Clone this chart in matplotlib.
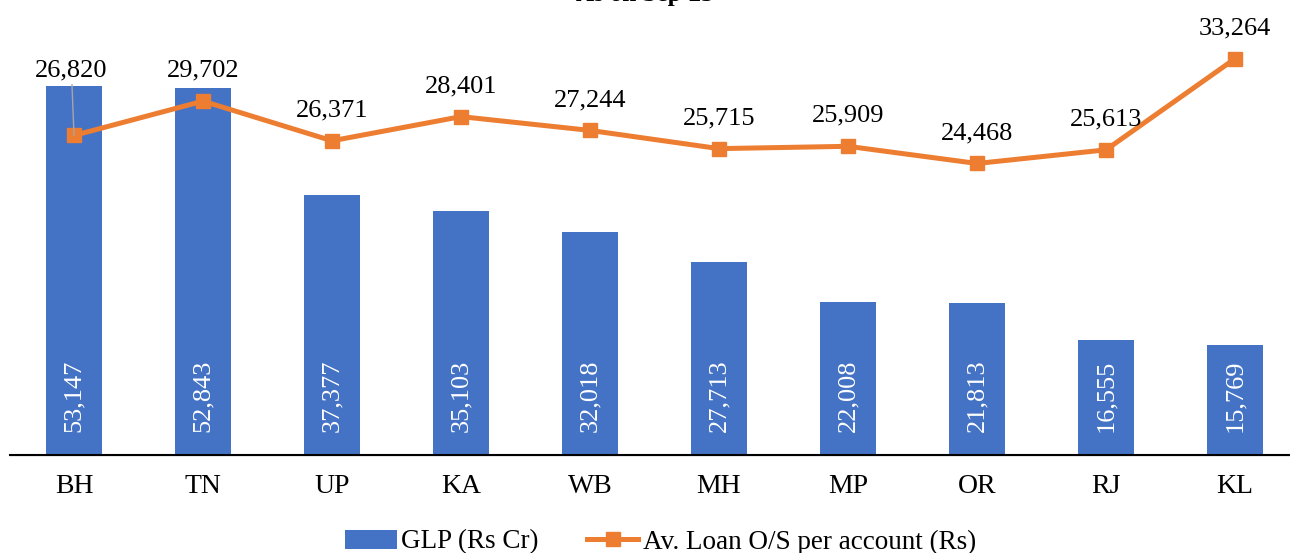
import numpy as np
import matplotlib
matplotlib.use("Agg")
from matplotlib import pyplot as plt

plt.rcParams["font.family"] = ["Liberation Serif", "DejaVu Serif"]

states = ["BH", "TN", "UP", "KA", "WB", "MH", "MP", "OR", "RJ", "KL"]
glp = [53147, 52843, 37377, 35103, 32018, 27713, 22008, 21813, 16555, 15769]
avg_loan = [26820, 29702, 26371, 28401, 27244, 25715, 25909, 24468, 25613, 33264]

bar_color = "#4472C4"
line_color = "#ED7D31"

fig = plt.figure(figsize=(12.9, 5.53), dpi=100)
ax = fig.add_axes([9.5 / 1290, 98 / 553, 1.0, 417 / 553])
ax2 = ax.twinx()

x = np.arange(len(states))
bars = ax.bar(x, glp, width=0.44, color=bar_color, label="GLP (Rs Cr)", zorder=2)
ax.set_ylim(0, 60000)
ax.set_xlim(-0.5, 9.5)

# values written vertically inside the bars
for xi, v in zip(x, glp):
    ax.text(xi, 3300, f"{v:,}", rotation=90, color="white", ha="center",
            va="bottom", fontsize=19)

line, = ax2.plot(x, avg_loan, color=line_color, lw=3.6, marker="s",
                 markersize=10, label="Av. Loan O/S per account (Rs)", zorder=3)
ax2.set_ylim(0, 35000)

for xi, v in zip(x, avg_loan):
    if xi == 0:
        # BH label is pulled up with a leader line
        ax2.annotate(f"{v:,}", xy=(xi, v), xytext=(xi - 0.02, v + 4500),
                     ha="center", va="bottom", fontsize=19,
                     arrowprops=dict(arrowstyle="-", color="#A6A6A6", lw=1,
                                     shrinkA=0, shrinkB=0))
    else:
        ax2.annotate(f"{v:,}", xy=(xi, v), xytext=(0, 14),
                     textcoords="offset points", ha="center", va="bottom",
                     fontsize=19)

for a in (ax, ax2):
    for s in ("top", "right", "left"):
        a.spines[s].set_visible(False)
    a.set_yticks([])
ax.spines["bottom"].set_linewidth(1.5)
ax.set_xticks(x)
ax.set_xticklabels(states, fontsize=20)
ax.tick_params(axis="x", length=0, pad=14)

fig.legend(handles=[bars, line], loc="center", bbox_to_anchor=(0.512, 11 / 553),
           ncol=2, frameon=False, fontsize=19.5, handlelength=1.9,
           handleheight=0.7, columnspacing=1.8, handletextpad=0.15)

# title sits mostly above the visible area
fig.text(0.5, 1 - 1 / 553, "As on Sep'23", ha="center", va="baseline",
         fontsize=18, fontweight="bold")

fig.savefig("out.png", dpi=100)
